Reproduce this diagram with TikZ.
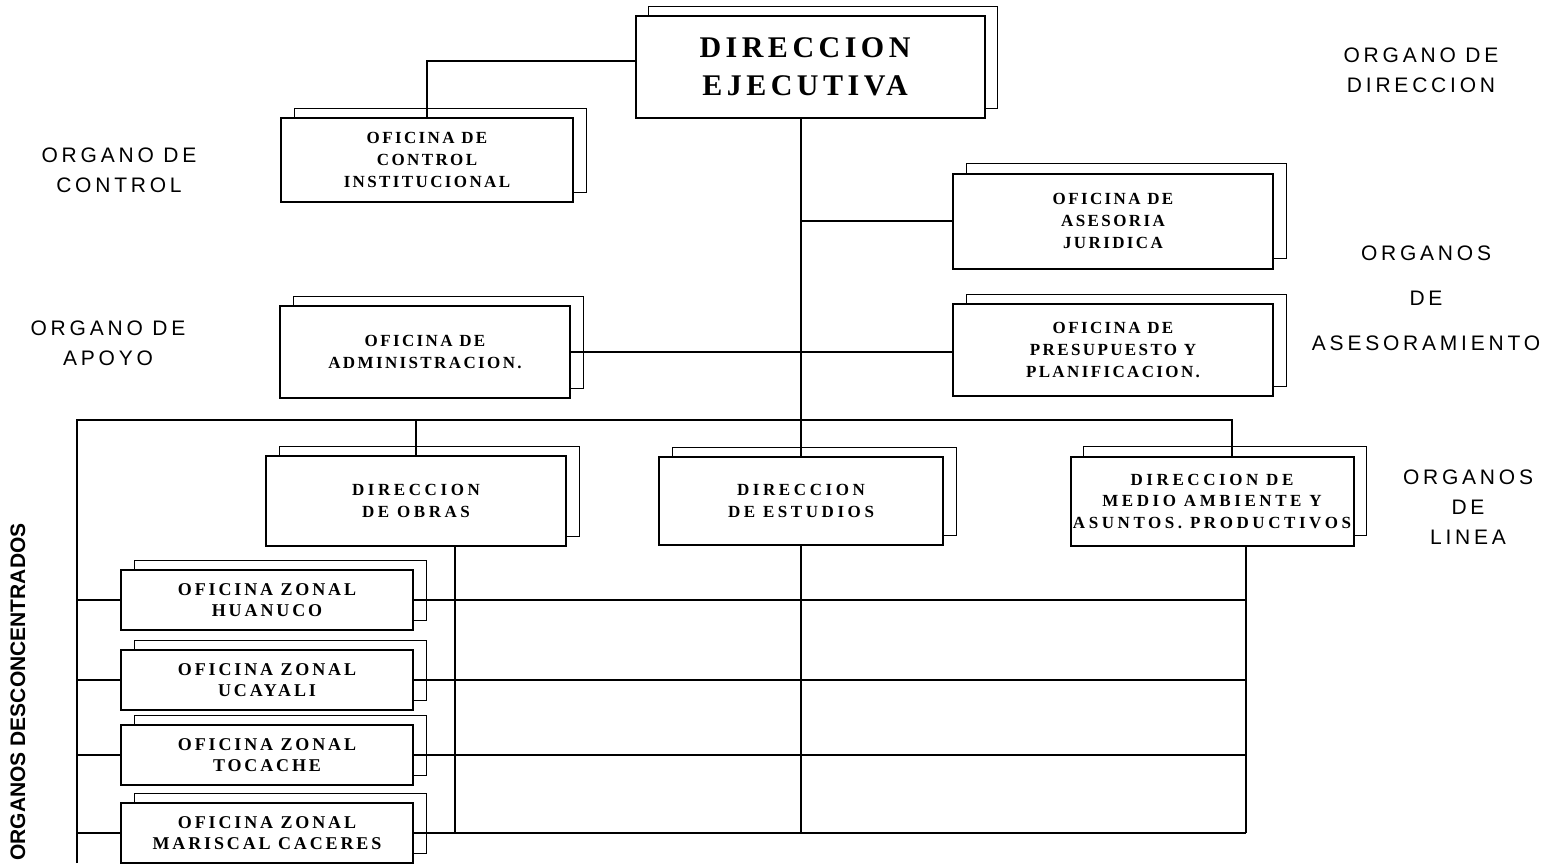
\documentclass[tikz,border=0pt]{standalone}
\usepackage{fontspec}
\setmainfont{Liberation Serif}
\newfontfamily\boxfont{Liberation Serif}[LetterSpace=14]
\newfontfamily\linefont{Liberation Serif}[LetterSpace=21]
\newfontfamily\zonefont{Liberation Serif}[LetterSpace=16]
\newfontfamily\topfont{Liberation Serif}[LetterSpace=15]
\newfontfamily\labfont{Liberation Sans}[LetterSpace=18]
\newfontfamily\vertfont{Liberation Sans}
\usetikzlibrary{shadows}
\tikzset{
  unit/.style={draw, line width=2pt, fill=white, align=center, inner sep=0pt,
    font=\boxfont\bfseries\fontsize{17}{22}\selectfont,
    copy shadow={shadow xshift=13pt, shadow yshift=10pt, draw=black, line width=0.9pt, fill=white}},
  bigunit/.style={unit, font=\topfont\bfseries\fontsize{30}{38}\selectfont},
  lineunit/.style={unit, font=\linefont\bfseries\fontsize{17}{21.5}\selectfont},
  zonal/.style={unit, minimum width=292pt, minimum height=60pt, font=\zonefont\bfseries\fontsize{18}{21.5}\selectfont},
  lab/.style={align=center, font=\labfont\fontsize{21}{30}\selectfont, inner sep=0pt},
  conn/.style={line width=2pt},
  thinconn/.style={line width=1.3pt}
}
\begin{document}
\begin{tikzpicture}[x=1pt,y=-1pt]
\useasboundingbox (0,0) rectangle (1562,863);
\fill[white] (0,0) rectangle (1562,863);

% boxes
\node[bigunit, minimum width=349pt, minimum height=102pt] (top) at (810,67) {\hspace*{-10pt}DIRECCION\\\hspace*{-10pt}EJECUTIVA};
\node[unit, minimum width=292pt, minimum height=84pt] (ctrl) at (427,160) {OFICINA DE\\CONTROL\\INSTITUCIONAL};
\node[unit, minimum width=320pt, minimum height=95pt] (jur) at (1113,221) {OFICINA DE\\ASESORIA\\JURIDICA};
\node[unit, minimum width=320pt, minimum height=92pt] (pres) at (1113,350) {OFICINA DE\\PRESUPUESTO Y\\PLANIFICACION.};
\node[unit, minimum width=290pt, minimum height=92pt] (adm) at (425,352) {OFICINA DE\\ADMINISTRACION.};
\node[lineunit, minimum width=300pt, minimum height=90pt] (obras) at (416,501) {DIRECCION\\DE OBRAS};
\node[lineunit, minimum width=284pt, minimum height=88pt] (est) at (801,501) {DIRECCION\\DE ESTUDIOS};
\node[lineunit, minimum width=283pt, minimum height=89pt] (med) at (1212,501) {DIRECCION DE\\MEDIO AMBIENTE Y\\ASUNTOS. PRODUCTIVOS};
\node[zonal] (hua) at (267,600) {OFICINA ZONAL\\HUANUCO};
\node[zonal] (uca) at (267,680) {OFICINA ZONAL\\UCAYALI};
\node[zonal] (toc) at (267,755) {OFICINA ZONAL\\TOCACHE};
\node[zonal] (mar) at (267,833) {OFICINA ZONAL\\MARISCAL CACERES};

% labels
\node[lab] (ldir) at (1421,70) {ORGANO DE\\DIRECCION};
\node[lab] (lctrl) at (119,170) {ORGANO DE\\CONTROL};
\node[lab] (lase) at (1426,298) {ORGANOS\\[15pt]DE\\[15pt]ASESORAMIENTO};
\node[lab] (lapo) at (108,343) {ORGANO DE\\APOYO};
\node[lab] (llin) at (1468,507) {ORGANOS\\DE\\LINEA};
\node[rotate=90, font=\vertfont\bfseries\fontsize{21}{24}\selectfont, inner sep=0pt] (ldes) at (18,692) {ORGANOS DESCONCENTRADOS};

% coordinates
\coordinate (barL) at (77,420);
\coordinate (barR) at (1232,420);
\coordinate (colO) at (455,0);
\coordinate (colM) at (1246,0);
\coordinate (botL) at (77,863);
\coordinate (topL) at (636,61);

% connectors
\draw[conn] (topL) -| (ctrl.north);
\draw[conn] (top.south -| est.north) -- (est.north);
\draw[conn] (jur.west) -- (jur.west -| est.north);
\draw[conn] (adm.east) -- (adm.east -| pres.west);
\draw[thinconn] (botL) -- (barL) -- (barR) -- (barR |- med.north);
\draw[thinconn] (obras.north |- barL) -- (obras.north);
\draw[conn] (est.south) -- (est.south |- mar.east);
\draw[conn] (obras.south -| colO) -- (colO |- mar.east);
\draw[conn] (med.south -| colM) -- (colM |- mar.east);
\foreach \z in {hua,uca,toc,mar}{
  \draw[thinconn] (\z.west -| barL) -- (\z.west);
  \draw[conn] (\z.east) -- (\z.east -| colM);
}
\end{tikzpicture}
\end{document}
